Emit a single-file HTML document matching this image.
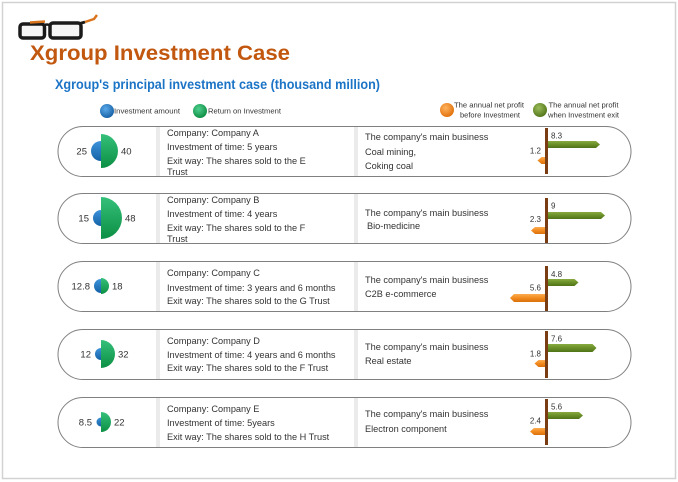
<!DOCTYPE html>
<html><head><meta charset="utf-8"><style>
html,body{margin:0;padding:0;background:#fff;}
svg{display:block;}
text{font-family:"Liberation Sans",Arial,sans-serif;}
</style></head><body>
<svg width="678" height="482" viewBox="0 0 678 482" xmlns="http://www.w3.org/2000/svg">
<defs>
<linearGradient id="gb" x1="0" y1="0" x2="0" y2="1"><stop offset="0" stop-color="#3d93da"/><stop offset="1" stop-color="#1462a6"/></linearGradient>
<linearGradient id="gg" x1="0" y1="0" x2="0" y2="1"><stop offset="0" stop-color="#35c07a"/><stop offset="1" stop-color="#0c8f44"/></linearGradient>
<linearGradient id="gol" x1="0" y1="0" x2="0" y2="1"><stop offset="0" stop-color="#88aa40"/><stop offset="0.5" stop-color="#6a8f28"/><stop offset="1" stop-color="#4f7318"/></linearGradient>
<linearGradient id="gor" x1="0" y1="0" x2="0" y2="1"><stop offset="0" stop-color="#fbab52"/><stop offset="0.5" stop-color="#f28b1e"/><stop offset="1" stop-color="#d96f0c"/></linearGradient>
<radialGradient id="sb" cx="0.4" cy="0.35" r="0.7"><stop offset="0" stop-color="#5aa9ea"/><stop offset="1" stop-color="#135ea2"/></radialGradient>
<radialGradient id="sg" cx="0.4" cy="0.35" r="0.7"><stop offset="0" stop-color="#4fd08e"/><stop offset="1" stop-color="#0b8a40"/></radialGradient>
<radialGradient id="so" cx="0.4" cy="0.35" r="0.7"><stop offset="0" stop-color="#ffb35e"/><stop offset="1" stop-color="#e06e08"/></radialGradient>
<radialGradient id="sl" cx="0.4" cy="0.35" r="0.7"><stop offset="0" stop-color="#9cbc5a"/><stop offset="1" stop-color="#4f7318"/></radialGradient>
</defs>

<!-- page frame -->
<rect x="2.5" y="2.5" width="673" height="476" fill="#fff" stroke="#d2d2d2" stroke-width="1.5"/>

<!-- glasses -->
<g>
<rect x="20" y="24" width="24.5" height="14" rx="3" fill="#f5f5f5" stroke="#1a1a1a" stroke-width="3.5"/>
<rect x="50" y="23" width="31" height="15" rx="3" fill="#f5f5f5" stroke="#1a1a1a" stroke-width="3.5"/>
<path d="M44,25.5 Q47,23.5 50,25.5" stroke="#1a1a1a" stroke-width="2.5" fill="none"/>
<path d="M30,22.5 L45,21.5" stroke="#d9741c" stroke-width="2.5" fill="none"/>
<path d="M80,23.5 L85,22" stroke="#1a1a1a" stroke-width="3" fill="none"/>
<path d="M85,22 L94,19 L97,15" stroke="#d9741c" stroke-width="2.5" fill="none"/>
</g>

<!-- titles -->
<text x="30" y="60" font-size="21" font-weight="bold" fill="#c2570f" textLength="260" lengthAdjust="spacingAndGlyphs">Xgroup Investment Case</text>
<text x="55" y="89" font-size="13.5" font-weight="bold" fill="#1c74c6" textLength="325" lengthAdjust="spacingAndGlyphs">Xgroup's principal investment case (thousand million)</text>

<!-- legend -->
<circle cx="107" cy="111" r="7" fill="url(#sb)"/>
<text x="114" y="113.7" font-size="7.5" fill="#333" textLength="66" lengthAdjust="spacingAndGlyphs">Investment amount</text>
<circle cx="200" cy="111" r="7" fill="url(#sg)"/>
<text x="208" y="113.7" font-size="7.5" fill="#333" textLength="73" lengthAdjust="spacingAndGlyphs">Return on Investment</text>
<circle cx="447" cy="110" r="7" fill="url(#so)"/>
<text x="489" y="107.5" font-size="7.2" fill="#333" text-anchor="middle" textLength="70" lengthAdjust="spacingAndGlyphs">The annual net profit</text>
<text x="490" y="117.5" font-size="7.2" fill="#333" text-anchor="middle" textLength="60" lengthAdjust="spacingAndGlyphs">before Investment</text>
<circle cx="540" cy="110" r="7" fill="url(#sl)"/>
<text x="583.5" y="107.5" font-size="7.2" fill="#333" text-anchor="middle" textLength="70" lengthAdjust="spacingAndGlyphs">The annual net profit</text>
<text x="583.5" y="117.5" font-size="7.2" fill="#333" text-anchor="middle" textLength="71" lengthAdjust="spacingAndGlyphs">when Investment exit</text>

<!-- ROW A top 126 -->
<g>
<rect x="58" y="126.5" width="573" height="50" rx="25" fill="#fff" stroke="#808080" stroke-width="1"/>
<rect x="156" y="127" width="4" height="49" fill="#ebebeb"/>
<rect x="354" y="127" width="4" height="49" fill="#ebebeb"/>
<path d="M101,141 A10,10 0 0 0 101,161 Z" fill="url(#gb)"/>
<path d="M101,134 A17,17 0 0 1 101,168 Z" fill="url(#gg)"/>
<text x="87" y="154.5" font-size="9.5" fill="#333" text-anchor="end">25</text>
<text x="121" y="154.5" font-size="9.5" fill="#333">40</text>
<g font-size="9.2" fill="#333">
<text x="167" y="136">Company: Company A</text>
<text x="167" y="150">Investment of time: 5 years</text>
<text x="167" y="164">Exit way: The shares sold to the E</text>
<text x="167" y="175">Trust</text>
<text x="365" y="140">The company's main business</text>
<text x="365" y="155">Coal mining,</text>
<text x="365" y="169">Coking coal</text>
</g>
<rect x="545" y="128" width="3" height="46" fill="#7a3c12"/>
<polygon points="548,141 596,141 600,144.5 596,148 548,148" fill="url(#gol)"/>
<polygon points="545,157 541.5,157 537.5,160.5 541.5,164 545,164" fill="url(#gor)"/>
<text x="551" y="138.7" font-size="8" fill="#333">8.3</text>
<text x="541" y="153.7" font-size="8" fill="#333" text-anchor="end">1.2</text>
</g>

<!-- ROW B top 193 -->
<g>
<rect x="58" y="193.5" width="573" height="50" rx="25" fill="#fff" stroke="#808080" stroke-width="1"/>
<rect x="156" y="194" width="4" height="49" fill="#ebebeb"/>
<rect x="354" y="194" width="4" height="49" fill="#ebebeb"/>
<path d="M101,210 A8,8 0 0 0 101,226 Z" fill="url(#gb)"/>
<path d="M101,197 A21,21 0 0 1 101,239 Z" fill="url(#gg)"/>
<text x="89" y="221.5" font-size="9.5" fill="#333" text-anchor="end">15</text>
<text x="125" y="221.5" font-size="9.5" fill="#333">48</text>
<g font-size="9.2" fill="#333">
<text x="167" y="203">Company: Company B</text>
<text x="167" y="217">Investment of time: 4 years</text>
<text x="167" y="231">Exit way: The shares sold to the F</text>
<text x="167" y="242">Trust</text>
<text x="365" y="216">The company's main business</text>
<text x="367" y="229">Bio-medicine</text>
</g>
<rect x="545" y="198" width="3" height="45" fill="#7a3c12"/>
<polygon points="548,212 601,212 605,215.5 601,219 548,219" fill="url(#gol)"/>
<polygon points="545,227 535,227 531,230.5 535,234 545,234" fill="url(#gor)"/>
<text x="551" y="208.7" font-size="8" fill="#333">9</text>
<text x="541" y="222" font-size="8" fill="#333" text-anchor="end">2.3</text>
</g>

<!-- ROW C top 261 -->
<g>
<rect x="58" y="261.5" width="573" height="50" rx="25" fill="#fff" stroke="#808080" stroke-width="1"/>
<rect x="156" y="262" width="4" height="49" fill="#ebebeb"/>
<rect x="354" y="262" width="4" height="49" fill="#ebebeb"/>
<path d="M101,279 A7,7 0 0 0 101,293 Z" fill="url(#gb)"/>
<path d="M101,278 A8,8 0 0 1 101,294 Z" fill="url(#gg)"/>
<text x="90" y="289.5" font-size="9.5" fill="#333" text-anchor="end">12.8</text>
<text x="112" y="289.5" font-size="9.5" fill="#333">18</text>
<g font-size="9.2" fill="#333">
<text x="167" y="276">Company: Company C</text>
<text x="167" y="291">Investment of time: 3 years and 6 months</text>
<text x="167" y="304">Exit way: The shares sold to the G Trust</text>
<text x="365" y="283">The company's main business</text>
<text x="365" y="297">C2B  e-commerce</text>
</g>
<rect x="545" y="266" width="3" height="45" fill="#7a3c12"/>
<polygon points="548,279 574.5,279 578.5,282.5 574.5,286 548,286" fill="url(#gol)"/>
<polygon points="545,294 514,294 510,298 514,302 545,302" fill="url(#gor)"/>
<text x="551" y="277" font-size="8" fill="#333">4.8</text>
<text x="541" y="290.3" font-size="8" fill="#333" text-anchor="end">5.6</text>
</g>

<!-- ROW D top 329 -->
<g>
<rect x="58" y="329.5" width="573" height="50" rx="25" fill="#fff" stroke="#808080" stroke-width="1"/>
<rect x="156" y="330" width="4" height="49" fill="#ebebeb"/>
<rect x="354" y="330" width="4" height="49" fill="#ebebeb"/>
<path d="M101,348 A6,6 0 0 0 101,360 Z" fill="url(#gb)"/>
<path d="M101,340 A14,14 0 0 1 101,368 Z" fill="url(#gg)"/>
<text x="91" y="357.5" font-size="9.5" fill="#333" text-anchor="end">12</text>
<text x="118" y="357.5" font-size="9.5" fill="#333">32</text>
<g font-size="9.2" fill="#333">
<text x="167" y="344">Company: Company D</text>
<text x="167" y="358">Investment of time: 4 years and 6 months</text>
<text x="167" y="371">Exit way: The shares sold to the F Trust</text>
<text x="365" y="350">The company's main business</text>
<text x="365" y="364">Real estate</text>
</g>
<rect x="545" y="331" width="3" height="47" fill="#7a3c12"/>
<polygon points="548,344 592.5,344 596.5,348 592.5,352 548,352" fill="url(#gol)"/>
<polygon points="545,360 538.5,360 534.5,363.5 538.5,367 545,367" fill="url(#gor)"/>
<text x="551" y="341.3" font-size="8" fill="#333">7.6</text>
<text x="541" y="356.3" font-size="8" fill="#333" text-anchor="end">1.8</text>
</g>

<!-- ROW E top 397 -->
<g>
<rect x="58" y="397.5" width="573" height="50" rx="25" fill="#fff" stroke="#808080" stroke-width="1"/>
<rect x="156" y="398" width="4" height="49" fill="#ebebeb"/>
<rect x="354" y="398" width="4" height="49" fill="#ebebeb"/>
<path d="M101,417.5 A4.5,4.5 0 0 0 101,426.5 Z" fill="url(#gb)"/>
<path d="M101,412 A10,10 0 0 1 101,432 Z" fill="url(#gg)"/>
<text x="92" y="425.5" font-size="9.5" fill="#333" text-anchor="end">8.5</text>
<text x="114" y="425.5" font-size="9.5" fill="#333">22</text>
<g font-size="9.2" fill="#333">
<text x="167" y="412">Company: Company E</text>
<text x="167" y="426">Investment of time: 5years</text>
<text x="167" y="440">Exit way: The shares sold to the H Trust</text>
<text x="365" y="417">The company's main business</text>
<text x="365" y="432">Electron component</text>
</g>
<rect x="545" y="399" width="3" height="46" fill="#7a3c12"/>
<polygon points="548,412 579,412 583,415.5 579,419 548,419" fill="url(#gol)"/>
<polygon points="545,428 534,428 530,431.5 534,435 545,435" fill="url(#gor)"/>
<text x="551" y="409.7" font-size="8" fill="#333">5.6</text>
<text x="541" y="423.5" font-size="8" fill="#333" text-anchor="end">2.4</text>
</g>
</svg>
</body></html>
